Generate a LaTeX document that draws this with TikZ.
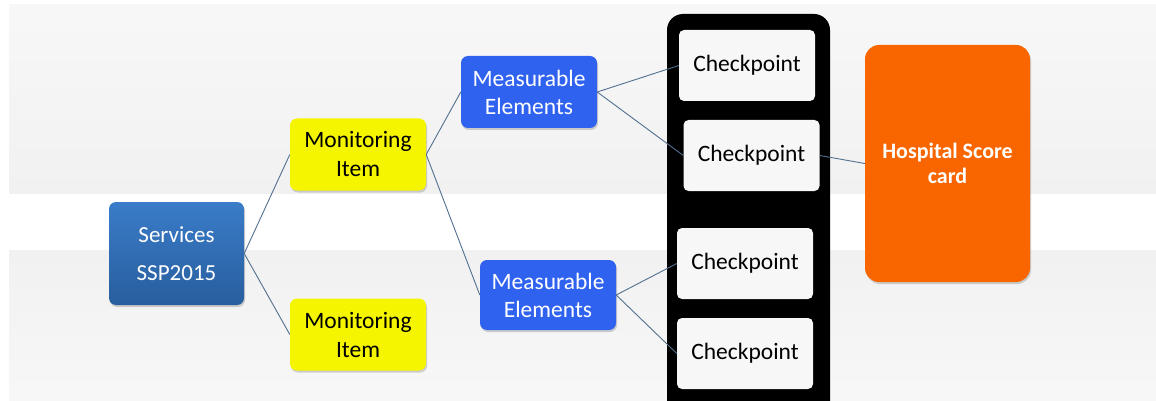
\documentclass[tikz,border=0pt]{standalone}
\usepackage{fontspec}
\setmainfont{Carlito}
\usetikzlibrary{shadows}
\definecolor{servblue}{HTML}{2F6BB3}
\definecolor{servtop}{HTML}{3A7CC8}
\definecolor{servbot}{HTML}{285E9E}
\definecolor{mebl}{HTML}{2F62EE}
\definecolor{yel}{HTML}{F5F500}
\definecolor{orng}{HTML}{F96600}
\definecolor{conn}{HTML}{52708F}
\definecolor{band}{HTML}{F1F1F1}
\begin{document}
\begin{tikzpicture}[x=1pt,y=-1pt,
  box/.style={rounded corners=7pt, minimum width=136pt, minimum height=72pt, inner sep=0pt, align=center,
    font=\fontsize{23.5}{29}\selectfont, drop shadow={shadow xshift=1pt, shadow yshift=-2pt, opacity=0.35}},
  cp/.style={rounded corners=5pt, fill=white!97!black, minimum width=136pt, minimum height=71pt, inner sep=0pt,
    font=\fontsize{23.5}{26}\selectfont},
  link/.style={draw=conn, line width=0.9pt}]
\useasboundingbox (0,0) rectangle (1156,401);
\fill[white] (0,0) rectangle (1156,401);
\shade[top color=white!97!black, bottom color=band] (9,5) rectangle (1156,193);
\shade[top color=band, bottom color=white!97!black] (9,250) rectangle (1156,401);
% nodes
\node[box, top color=servtop, bottom color=servbot, text=white, minimum width=135pt, minimum height=103pt,
  font=\fontsize{23}{38}\selectfont] (serv) at (176.5,253.5) {Services\\SSP2015};
\node[box, fill=yel] (mi1) at (358,154.5) {Monitoring\\Item};
\node[box, fill=yel] (mi2) at (358,334.5) {Monitoring\\Item};
\node[box, fill=mebl, text=white, minimum height=72pt, font=\fontsize{23.5}{28}\selectfont] (me1) at (529,92) {Measurable\\Elements};
\node[box, fill=mebl, text=white, minimum height=70pt, font=\fontsize{23.5}{28}\selectfont] (me2) at (548,295) {Measurable\\Elements};
\fill[black, rounded corners=16pt] (667,14) rectangle (830,420);
\node[cp] (cp1) at (747,65.5) {Checkpoint};
\node[cp] (cp2) at (751.5,155.5) {Checkpoint};
\node[cp] (cp3) at (745,263.5) {Checkpoint};
\node[cp] (cp4) at (745,353.5) {Checkpoint};
\node[box, fill=orng, text=white, minimum width=165pt, minimum height=237pt, rounded corners=14pt,
  font=\fontsize{22}{25}\selectfont\bfseries] (hsc) at (947.5,163.5) {Hospital Score\\card};
% connectors
\draw[link] (serv.east) -- (mi1.west);
\draw[link] (serv.east) -- (mi2.west);
\draw[link] (mi1.east) -- (me1.west);
\draw[link] (mi1.east) -- (me2.west);
\draw[link] (me1.east) -- (cp1.west);
\draw[link] (me1.east) -- (cp2.west);
\draw[link] (me2.east) -- (cp3.west);
\draw[link] (me2.east) -- (cp4.west);
\draw[link] (cp2.east) -- (hsc.west);
\end{tikzpicture}
\end{document}
